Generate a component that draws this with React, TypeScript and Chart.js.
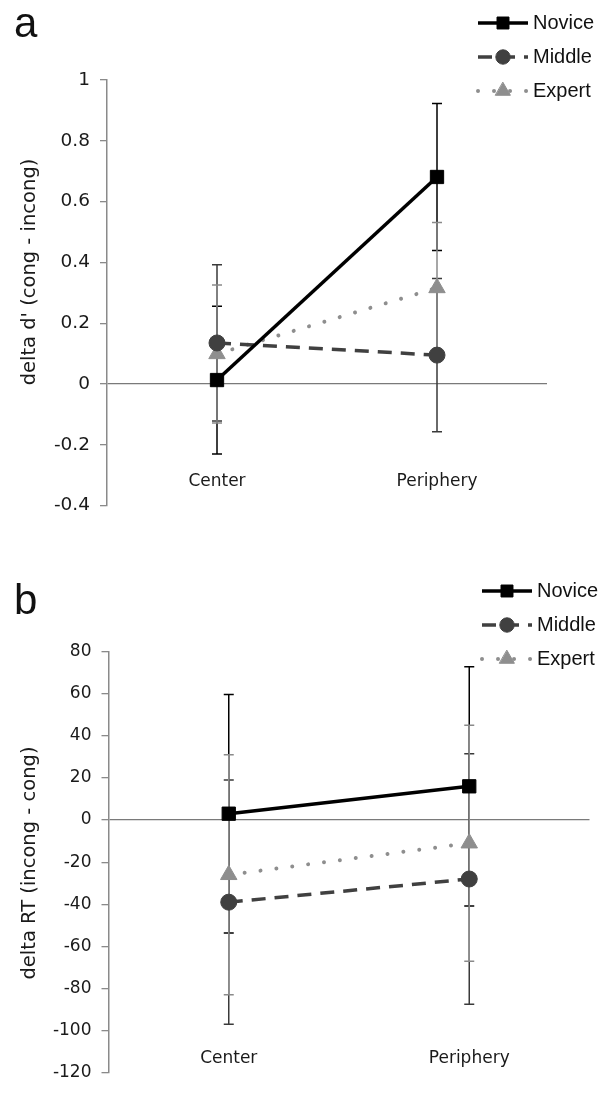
import React, { useEffect, useRef } from 'react';
import { Chart, registerables } from 'chart.js';
import { drawPoint } from 'chart.js/helpers';

Chart.register(...registerables);

// ---------- data ----------
const CATEGORIES = ['Center', 'Periphery'];
const SERIES = ['Novice', 'Middle', 'Expert'];

// panel a: delta d' (cong - incong)
const A_NOVICE = [0.013, 0.681];
const A_MIDDLE = [0.135, 0.095];
const A_EXPERT = [0.099, 0.316];
const A_NOVICE_ERR = [0.243, 0.242];
const A_MIDDLE_ERR = [0.257, 0.252];
const A_EXPERT_ERR = [0.227, 0.215];
const A_TICKS = [-0.4, -0.2, 0, 0.2, 0.4, 0.6, 0.8, 1];
const A_TITLE = "delta d' (cong - incong)";

// panel b: delta RT (incong - cong)
const B_NOVICE = [3, 16];
const B_MIDDLE = [-39, -28];
const B_EXPERT = [-26, -11];
const B_NOVICE_ERR = [56.6, 56.8];
const B_MIDDLE_ERR = [58, 59.5];
const B_EXPERT_ERR = [57, 56];
const B_TICKS = [-120, -100, -80, -60, -40, -20, 0, 20, 40, 60, 80];
const B_TITLE = 'delta RT (incong - cong)';

// ---------- styles ----------
const SERIES_STYLE = [
  { color: '#000000', width: 3.5, dash: [] as number[], cap: 'butt', point: 'rect', radius: 9.4 },
  { color: '#404040', width: 3.5, dash: [14, 9], cap: 'butt', point: 'circle', radius: 8 },
  { color: '#8e8e8e', width: 4, dash: [0.01, 16], cap: 'round', point: 'triangle', radius: 9.5 },
];
const ERR_COLORS = ['#000000', '#3a3a3a', '#8a8a8a'];
const FONT_FAMILY = '"DejaVu Sans", Verdana, sans-serif';
const TEXT_COLOR = '#1a1a1a';

function fmt(v: number) {
  const r = Math.round(v * 1000) / 1000;
  return String(r);
}

function errorBarPlugin(errors: number[][]) {
  return {
    id: 'errorBars',
    beforeDatasetsDraw(chart: any) {
      const ctx = chart.ctx;
      const yScale = chart.scales.y;
      errors.forEach((errs, i) => {
        const meta = chart.getDatasetMeta(i);
        const vals = chart.data.datasets[i].data as number[];
        ctx.save();
        ctx.strokeStyle = ERR_COLORS[i];
        ctx.lineWidth = 1.5;
        meta.data.forEach((pt: any, j: number) => {
          const x = pt.x;
          const top = yScale.getPixelForValue(vals[j] + errs[j]);
          const bot = yScale.getPixelForValue(vals[j] - errs[j]);
          ctx.beginPath();
          ctx.moveTo(x, top);
          ctx.lineTo(x, bot);
          ctx.moveTo(x - 5, top);
          ctx.lineTo(x + 5, top);
          ctx.moveTo(x - 5, bot);
          ctx.lineTo(x + 5, bot);
          ctx.stroke();
        });
        ctx.restore();
      });
    },
  };
}

interface Decor {
  letter: string;
  letterX: number;
  letterY: number;
  title: string;
  titleX: number;
  titleY: number;
  legendX1: number;
  legendX2: number;
  legendTextX: number;
  legendY: number[];
}

function decorPlugin(cfg: Decor) {
  return {
    id: 'decor',
    afterDraw(chart: any) {
      const ctx = chart.ctx;
      ctx.save();
      ctx.fillStyle = '#111';
      ctx.font = '42px "Liberation Sans", Arial, sans-serif';
      ctx.textAlign = 'left';
      ctx.textBaseline = 'alphabetic';
      ctx.fillText(cfg.letter, cfg.letterX, cfg.letterY);
      ctx.translate(cfg.titleX, cfg.titleY);
      ctx.rotate(-Math.PI / 2);
      ctx.font = '19.5px ' + FONT_FAMILY;
      ctx.textAlign = 'center';
      ctx.textBaseline = 'middle';
      ctx.fillStyle = TEXT_COLOR;
      ctx.fillText(cfg.title, 0, 0);
      ctx.restore();

      chart.data.datasets.forEach((ds: any, i: number) => {
        const y = cfg.legendY[i];
        ctx.save();
        ctx.strokeStyle = ds.borderColor;
        ctx.lineWidth = ds.borderWidth;
        ctx.lineCap = ds.borderCapStyle || 'butt';
        ctx.setLineDash(ds.borderDash || []);
        ctx.beginPath();
        ctx.moveTo(cfg.legendX1, y);
        ctx.lineTo(cfg.legendX2, y);
        ctx.stroke();
        ctx.setLineDash([]);
        ctx.fillStyle = ds.pointBackgroundColor;
        ctx.strokeStyle = ds.pointBorderColor;
        ctx.lineWidth = 1;
        drawPoint(
          ctx,
          { pointStyle: ds.pointStyle, radius: ds.pointRadius * 0.9, rotation: 0, borderWidth: 1 } as any,
          (cfg.legendX1 + cfg.legendX2) / 2,
          y
        );
        ctx.fillStyle = '#111';
        ctx.font = '20px "Liberation Sans", Arial, sans-serif';
        ctx.textAlign = 'left';
        ctx.textBaseline = 'middle';
        ctx.fillText(ds.label, cfg.legendTextX, y);
        ctx.restore();
      });
    },
  };
}

function makeDatasets(values: number[][]) {
  return values.map((data, i) => {
    const s = SERIES_STYLE[i];
    return {
      label: SERIES[i],
      data,
      borderColor: s.color,
      backgroundColor: s.color,
      borderWidth: s.width,
      borderDash: s.dash,
      borderCapStyle: s.cap,
      pointStyle: s.point,
      pointRadius: s.radius,
      pointHoverRadius: s.radius,
      pointBackgroundColor: s.color,
      pointBorderColor: s.color,
      pointBorderWidth: 1,
      tension: 0,
      fill: false,
    };
  });
}

function makeConfig(opts: {
  values: number[][];
  errors: number[][];
  ticks: number[];
  min: number;
  max: number;
  axisWidth: number;
  tickFontSize: number;
  padding: { top: number; right: number; bottom: number; left: number };
  labelRowValue: number;
  decor: Decor;
}) {
  return {
    type: 'line',
    data: { labels: CATEGORIES, datasets: makeDatasets(opts.values) },
    options: {
      animation: false,
      responsive: false,
      devicePixelRatio: 1,
      layout: { padding: opts.padding },
      plugins: { legend: { display: false }, tooltip: { enabled: false }, title: { display: false } },
      scales: {
        x: {
          type: 'category',
          position: { y: opts.labelRowValue },
          offset: true,
          grid: { display: false, drawTicks: false },
          border: { display: false },
          ticks: { padding: 0, color: TEXT_COLOR, font: { family: FONT_FAMILY, size: 17 }, maxRotation: 0 },
        },
        y: {
          type: 'linear',
          min: opts.min,
          max: opts.max,
          afterBuildTicks: (s: any) => {
            s.ticks = opts.ticks.map((v) => ({ value: v }));
          },
          afterFit: (s: any) => {
            s.width = opts.axisWidth;
          },
          border: { display: true, color: '#8a8a8a', width: 1.5 },
          grid: {
            drawOnChartArea: true,
            color: (c: any) => (c.tick && Math.abs(c.tick.value) < 1e-9 ? '#7a7a7a' : 'rgba(0,0,0,0)'),
            lineWidth: 1.3,
            tickColor: '#8a8a8a',
            tickWidth: 1.3,
            tickLength: 7,
          },
          ticks: {
            padding: 10,
            color: TEXT_COLOR,
            font: { family: FONT_FAMILY, size: opts.tickFontSize },
            callback: (v: number) => fmt(v),
          },
        },
      },
    },
    plugins: [errorBarPlugin(opts.errors), decorPlugin(opts.decor)],
  };
}

export default function App() {
  const topRef = useRef<HTMLCanvasElement>(null);
  const botRef = useRef<HTMLCanvasElement>(null);

  useEffect(() => {
    const a = new Chart(
      topRef.current as HTMLCanvasElement,
      makeConfig({
        values: [A_NOVICE, A_MIDDLE, A_EXPERT],
        errors: [A_NOVICE_ERR, A_MIDDLE_ERR, A_EXPERT_ERR],
        ticks: A_TICKS,
        min: -0.4,
        max: 1,
        axisWidth: 107,
        tickFontSize: 18.5,
        padding: { top: 80, right: 53, bottom: 34.4, left: 0 },
        labelRowValue: -0.286,
        decor: {
          letter: 'a',
          letterX: 14,
          letterY: 37,
          title: A_TITLE,
          titleX: 30,
          titleY: 272,
          legendX1: 478,
          legendX2: 528,
          legendTextX: 533,
          legendY: [23, 57, 91],
        },
      }) as any
    );
    const b = new Chart(
      botRef.current as HTMLCanvasElement,
      makeConfig({
        values: [B_NOVICE, B_MIDDLE, B_EXPERT],
        errors: [B_NOVICE_ERR, B_MIDDLE_ERR, B_EXPERT_ERR],
        ticks: B_TICKS,
        min: -120,
        max: 80,
        axisWidth: 108.5,
        tickFontSize: 17,
        padding: { top: 111.5, right: 8, bottom: 13.5, left: 0 },
        labelRowValue: -108.5,
        decor: {
          letter: 'b',
          letterX: 14,
          letterY: 74,
          title: B_TITLE,
          titleX: 30,
          titleY: 323,
          legendX1: 482,
          legendX2: 532,
          legendTextX: 537,
          legendY: [51, 85, 119],
        },
      }) as any
    );
    return () => {
      a.destroy();
      b.destroy();
    };
  }, []);

  return (
    <div style={{ position: 'absolute', left: 0, top: 0, width: 600, height: 1093, background: '#ffffff' }}>
      <canvas ref={topRef} width={600} height={540} style={{ position: 'absolute', left: 0, top: 0 }} />
      <canvas ref={botRef} width={600} height={553} style={{ position: 'absolute', left: 0, top: 540 }} />
    </div>
  );
}
